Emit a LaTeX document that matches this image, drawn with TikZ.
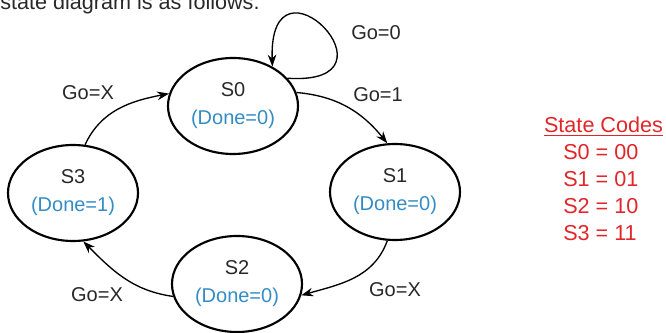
\documentclass[tikz,border=0pt]{standalone}
\usepackage{fontspec}
\setmainfont{Liberation Sans}
\usetikzlibrary{arrows.meta,shapes.geometric}

\definecolor{doneblue}{RGB}{52,140,196}
\definecolor{codered}{RGB}{225,38,42}
\definecolor{inkgray}{RGB}{40,40,40}

\tikzset{
    stateell/.style={ellipse,draw=black,line width=1.6pt,minimum width=97.5pt,
        minimum height=72pt,inner sep=0pt,align=center,text=inkgray,
        font=\fontsize{15}{21}\selectfont},
    golabel/.style={text=inkgray,font=\fontsize{15}{18}\selectfont},
    trans/.style={->,line width=1pt,draw=black},
    codetext/.style={text=codered,font=\fontsize{16.2}{20}\selectfont}
}

\begin{document}
\begin{tikzpicture}[x=0.75pt,y=0.75pt,>={Stealth[length=9pt,width=6.5pt]}]
    \useasboundingbox (0,0) rectangle (666,332);

    % === Heading line (cut at the top) ===
    \node[anchor=base west,inner sep=0pt,font=\fontsize{16.2}{20}\selectfont,text=inkgray]
        (intro) at (0,322) {state diagram is as follows.};

    % === States ===
    \node[stateell] (s0) at (233,226) {S0\\ \textcolor{doneblue}{(Done=0)}};
    \node[stateell] (s1) at (395,140) {S1\\ \textcolor{doneblue}{(Done=0)}};
    \node[stateell] (s2) at (237,48)  {S2\\ \textcolor{doneblue}{(Done=0)}};
    \node[stateell] (s3) at (73,139)  {S3\\ \textcolor{doneblue}{(Done=1)}};

    % === Transitions ===
    \draw[trans] (s0.27) .. controls +(122,-8) and +(-4,125) .. (s0.45);
    \draw[trans] (s0.12) to[out=-5,in=129] (s1.99);
    \draw[trans] (s1.261) to[out=250,in=16] (s2.350);
    \draw[trans] (s2.191) to[out=172,in=-45] (s3.282);
    \draw[trans] (s3.76) to[out=65,in=191] (s0.169);

    % Transition labels
    \node[golabel] (go0)  at (376,299) {Go=0};
    \node[golabel] (go1)  at (378,237) {Go=1};
    \node[golabel] (gox1) at (395,42)  {Go=X};
    \node[golabel] (gox2) at (97,37)   {Go=X};
    \node[golabel] (gox3) at (88,239)  {Go=X};

    % === State codes table ===
    \node[codetext,anchor=base,inner sep=0pt] (codes) at (603.5,199) {\underline{State Codes}};
    \foreach \s/\c/\y in {0/00/172,1/01/146,2/10/119,3/11/92}
        \node[codetext,anchor=base west,inner sep=0pt] (code\s) at (563,\y) {S\s{} = \c};
\end{tikzpicture}
\end{document}
